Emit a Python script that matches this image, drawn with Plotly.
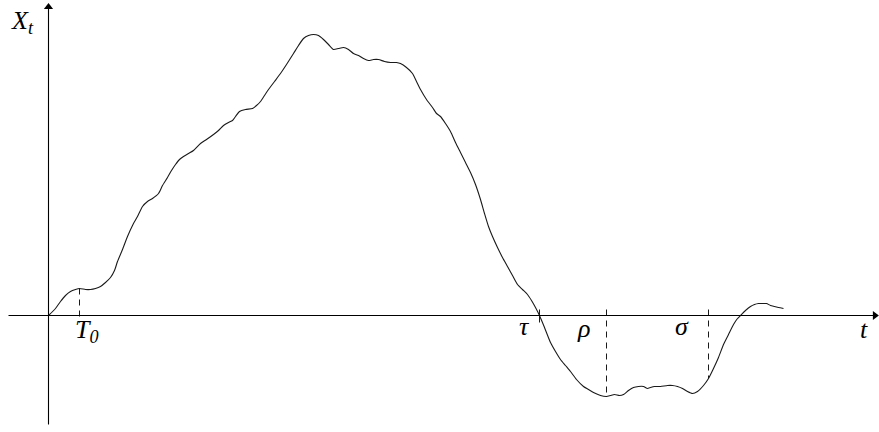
import plotly.graph_objects as go

# path of X_t (t along the axis, height above the t axis)
curve_t = [
    48, 55, 60, 65, 70, 75, 79, 85, 90, 95, 100, 105, 110, 114, 117, 122,
    127, 132, 137, 142, 147, 152, 158, 162, 167, 171, 175, 179, 183, 188,
    193, 200, 206, 213, 218, 223, 228, 232, 235, 239, 245, 252, 256, 260,
    264, 268, 274, 280, 286, 293, 298, 303, 308, 313, 318, 323, 328, 333,
    338, 343, 348, 353, 358, 363, 368, 373, 378, 384, 390, 396, 400, 406,
    412, 416, 420, 426, 432, 436, 440, 445, 450, 455, 460, 465, 470, 475,
    480, 484, 488, 492, 497, 502, 507, 512, 517, 522, 527, 531, 535, 539,
    544, 550, 555, 560, 565, 570, 576, 583, 588, 593, 600, 606, 610, 614,
    619, 623, 628, 633, 638, 643, 647, 650, 654, 660, 667, 672, 677, 682,
    687, 692, 697, 703, 708, 713, 718, 723, 728, 733, 737, 740, 745, 750,
    754, 758, 762, 766, 770, 774, 778, 783,
]
curve_x = [
    0, 7, 14, 20, 24, 26, 27, 26, 26, 27, 29, 33, 38, 45, 54, 66,
    79, 90, 99, 109, 114, 117, 122, 130, 138, 145, 151, 156, 159, 162,
    165, 172, 176, 181, 185, 190, 193, 195, 199, 204, 206, 207, 210, 214,
    220, 226, 234, 242, 251, 262, 270, 277, 280, 281, 280, 276, 271, 266,
    267, 268, 266, 262, 260, 257, 255, 256, 256, 254, 253, 253, 252, 248,
    242, 234, 226, 216, 208, 202, 199, 192, 184, 173, 163, 153, 143, 131,
    116, 102, 89, 79, 68, 58, 49, 40, 31, 26, 21, 15, 8, 0,
    -12, -27, -36, -44, -50, -56, -64, -71, -74, -77, -80, -81, -80, -79,
    -80, -79, -75, -72, -71, -71, -73, -72, -71, -71, -70, -70, -71, -73,
    -76, -78, -76, -70, -63, -53, -42, -29, -19, -9, -3, 0, 5, 9,
    11, 12, 12, 12, 10, 9, 8, 7,
]

# marked times: name, t, top and bottom of the marker, dashed or not
mark_names = ["T0", "tau", "rho", "sigma"]
mark_t = [79, 539, 606, 708]
mark_top = [27, 6, 6, 6]
mark_bottom = [-7, -7, -81, -63]
mark_dashed = [True, False, True, True]

# labels
label_text = ["X<sub>t</sub>", "t", "T<sub>0</sub>", "τ", "ρ", "σ"]
label_t = [22, 863, 86, 524, 583, 681]
label_x = [294, -14, -15, -11, -13, -11]

T_MIN, T_MAX = 8, 879
X_MIN, X_MAX = -109, 313
Y_AXIS_T = 48
ARROW = 8
TIP = ARROW / 2 * 1.155  # triangle marker: centre to tip

FONT = "Liberation Serif, DejaVu Serif, serif"
INK = "#1a1a1a"

fig = go.Figure()

fig.add_trace(
    go.Scatter(
        x=curve_t,
        y=curve_x,
        mode="lines",
        line={"color": INK, "width": 1.1, "shape": "spline", "smoothing": 0.6},
        hoverinfo="skip",
    )
)

for name, t, top, bot, dashed in zip(mark_names, mark_t, mark_top, mark_bottom, mark_dashed):
    fig.add_trace(
        go.Scatter(
            x=[t, t],
            y=[top, bot],
            mode="lines",
            line={"color": INK, "width": 1, "dash": "6px,5px" if dashed else "solid"},
            name=name,
            hoverinfo="skip",
        )
    )

# axes
fig.add_trace(
    go.Scatter(x=[T_MIN, T_MAX - TIP], y=[0, 0], mode="lines",
               line={"color": "black", "width": 1.1}, hoverinfo="skip")
)
fig.add_trace(
    go.Scatter(x=[Y_AXIS_T, Y_AXIS_T], y=[X_MIN, X_MAX - TIP], mode="lines",
               line={"color": "black", "width": 1.1}, hoverinfo="skip")
)
# arrow heads
fig.add_trace(
    go.Scatter(x=[T_MAX - TIP], y=[0], mode="markers",
               marker={"symbol": "triangle-right", "size": ARROW, "color": "black"},
               hoverinfo="skip", cliponaxis=False)
)
fig.add_trace(
    go.Scatter(x=[Y_AXIS_T], y=[X_MAX - TIP], mode="markers",
               marker={"symbol": "triangle-up", "size": ARROW, "color": "black"},
               hoverinfo="skip", cliponaxis=False)
)

for txt, t, x in zip(label_text, label_t, label_x):
    fig.add_annotation(x=t, y=x, text=txt, showarrow=False,
                       font={"family": FONT, "size": 26, "color": "black", "style": "italic"})

fig.update_layout(
    width=879,
    height=432,
    margin={"l": 0, "r": 0, "t": 0, "b": 0},
    plot_bgcolor="white",
    paper_bgcolor="white",
    showlegend=False,
    # half-pixel offsets keep 1px lines sharp
    xaxis={"range": [-0.5, 878.5], "visible": False, "fixedrange": True},
    yaxis={"range": [-116.5, 315.5], "visible": False, "fixedrange": True},
)

# drop the default 8px page margin so the figure sits at the window corner
fig.write_html(
    "out.html",
    config={"displayModeBar": False},
    post_script="document.body.style.margin = '0';",
)
